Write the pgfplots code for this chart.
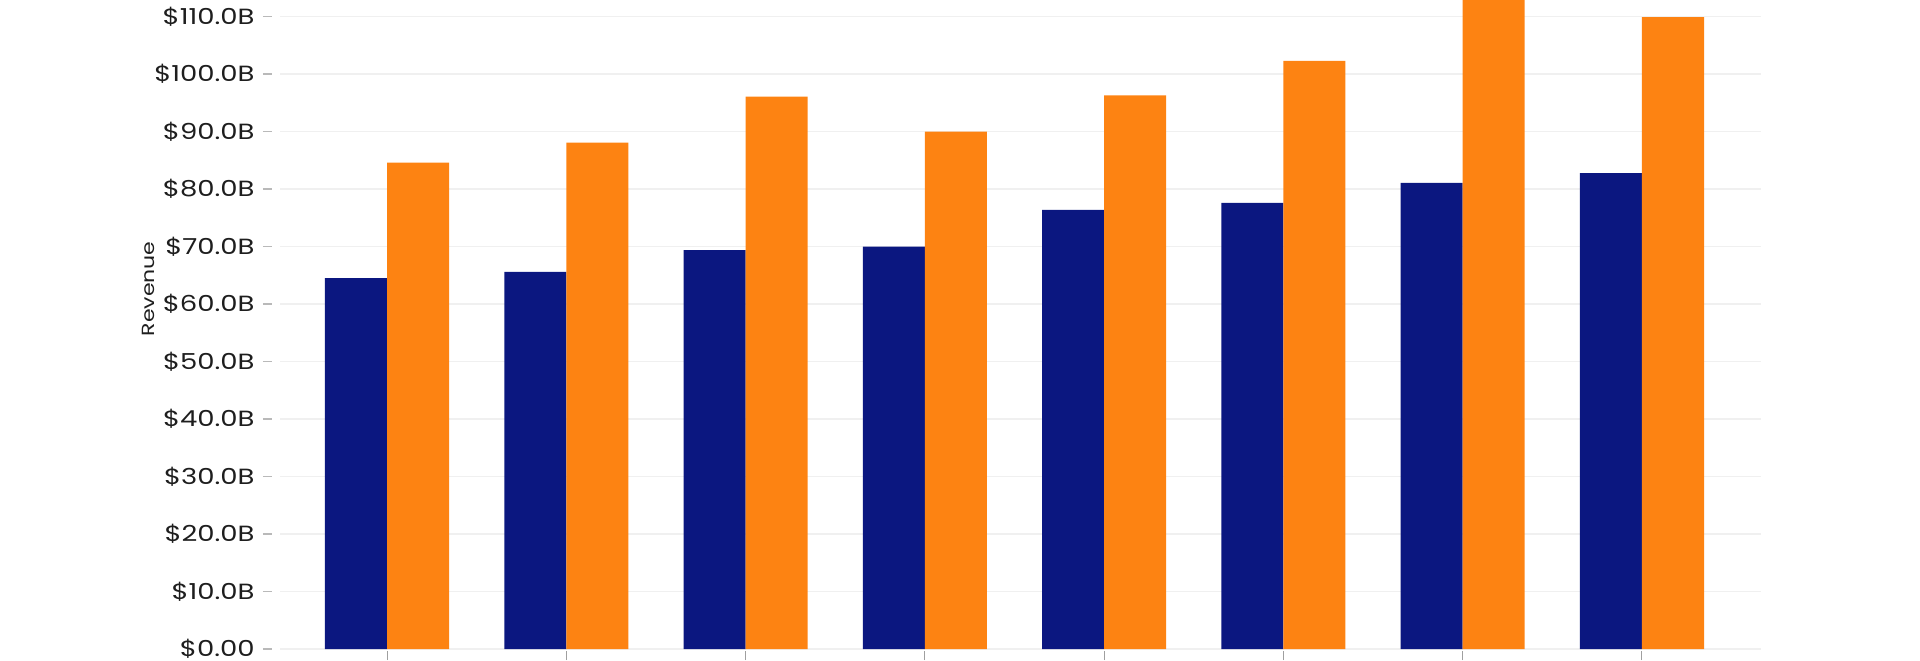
\documentclass[border=0pt]{standalone}
\usepackage{fontspec}
\setmainfont{Poppins}[FakeStretch=1.25]
\usepackage{pgfplots}
\pgfplotsset{compat=1.18}
\definecolor{navy}{HTML}{0B1780}
\definecolor{orng}{HTML}{FD8312}
\definecolor{txt}{HTML}{1E1E1E}
\definecolor{grd}{HTML}{F0F0F0}
\begin{document}
\begin{tikzpicture}
\path[use as bounding box] (-140pt,-5.5pt) rectangle (820pt,324.5pt);
\begin{axis}[
  at={(0,0)}, anchor=south west,
  scale only axis, width=740.5pt, height=324.5pt,
  xmin=-0.597, xmax=7.664, ymin=0, ymax=112.9,
  axis line style={draw=none},
  ytick={0,10,20,30,40,50,60,70,80,90,100,110},
  yticklabels={\$0.00,\$10.0B,\$20.0B,\$30.0B,\$40.0B,\$50.0B,\$60.0B,\$70.0B,\$80.0B,\$90.0B,\$100.0B,\$110.0B},
  xtick={0,1,2,3,4,5,6,7}, xticklabels={},
  xtick pos=bottom, ytick pos=left,
  tick align=outside,
  major tick length=4.5pt,
  ymajorgrids, grid style={grd, line width=0.75pt},
  y tick style={draw=gray!55, line width=0.75pt, xshift=-4pt},
  x tick style={draw=gray!75, line width=0.5pt, yshift=-1pt},
  yticklabel style={font=\fontsize{11}{13}\selectfont, text=txt, inner sep=0pt, xshift=-8pt},
  ylabel={Revenue},
  ylabel style={at={(axis description cs:-0.0891,0.555)}, anchor=center, font=\fontsize{8.8}{10}\selectfont, text=txt},
]
\addplot[ybar, bar width=0.346, bar shift=-0.173, fill=navy, draw=none]
  coordinates {(0,64.5) (1,65.6) (2,69.4) (3,70.0) (4,76.4) (5,77.6) (6,81.1) (7,82.8)};
\addplot[ybar, bar width=0.346, bar shift=0.173, fill=orng, draw=none]
  coordinates {(0,84.6) (1,88.1) (2,96.1) (3,90.0) (4,96.3) (5,102.3) (6,118.0) (7,109.9)};
\end{axis}
\end{tikzpicture}
\end{document}
